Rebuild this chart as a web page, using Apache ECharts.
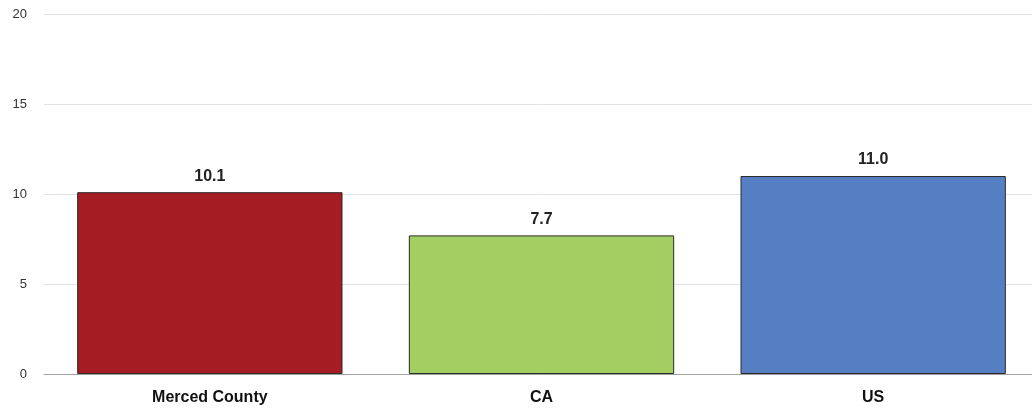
<!DOCTYPE html>
<html><head><meta charset="utf-8">
<script src="https://cdn.jsdelivr.net/npm/echarts@6/dist/echarts.min.js"></script>
<style>html,body{margin:0;padding:0;background:#fff;overflow:hidden;width:1032px;height:411px}#c{width:1039px;height:411px}</style>
</head><body><div id="c"></div>
<script>
const categories = ["Merced County", "CA", "US"];
const values = [10.1, 7.7, 11.0];
const barColors = ["#A51C22", "#A3CF62", "#567EC3"];
const yTicks = [0, 5, 10, 15, 20];

const FONT = '"Liberation Sans", Arial, sans-serif';
const chart = echarts.init(document.getElementById('c'));
chart.setOption({
  animation: false,
  grid: { left: 44, right: 0, top: 14, bottom: 37, containLabel: false },
  xAxis: {
    type: 'category', data: categories,
    axisLine: { show: true, lineStyle: { color: '#a0a0a0', width: 1 } },
    axisTick: { show: false },
    axisLabel: { color: '#111', fontFamily: FONT, fontWeight: 'bold', fontSize: 16, margin: 16 }
  },
  yAxis: {
    type: 'value', min: yTicks[0], max: yTicks[yTicks.length - 1], interval: 5,
    axisLine: { show: false }, axisTick: { show: false },
    splitLine: { lineStyle: { color: '#e3e3e3', width: 1 } },
    axisLabel: { color: '#333', fontFamily: FONT, fontSize: 13, margin: 17, align: 'right' }
  },
  series: [{
    type: 'bar',
    barWidth: '80%',
    data: values.map((v, i) => ({ value: v, itemStyle: { color: barColors[i] } })),
    itemStyle: { borderColor: '#2b2b2b', borderWidth: 1 },
    label: {
      show: true, position: 'top', distance: 8,
      formatter: p => p.value.toFixed(1),
      color: '#222', fontFamily: FONT, fontWeight: 'bold', fontSize: 16
    }
  }]
});
</script></body></html>
